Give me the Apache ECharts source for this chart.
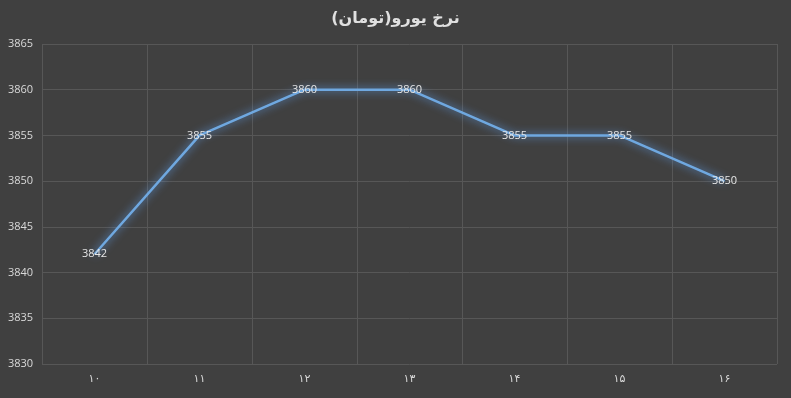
<!DOCTYPE html>
<html>
<head>
<meta charset="utf-8">
<script src="https://cdn.jsdelivr.net/npm/echarts@6/dist/echarts.min.js"></script>
<style>
  html, body { margin: 0; padding: 0; background: #404040; }
  #main { width: 791px; height: 398px; }
</style>
</head>
<body>
<div id="main"></div>
<script>
// روزها و نرخ یورو
var days = ['۱۰', '۱۱', '۱۲', '۱۳', '۱۴', '۱۵', '۱۶'];
var rates = [3842, 3855, 3860, 3860, 3855, 3855, 3850];
var chartTitle = 'نرخ یورو(تومان)';

var myChart = echarts.init(document.getElementById('main'));
myChart.setOption({
    backgroundColor: '#404040',
    title: {
        text: chartTitle,
        left: 'center',
        top: 6,
        textStyle: {
            color: '#e0e0e0',
            fontSize: 16,
            fontWeight: 'bold',
            fontFamily: 'DejaVu Sans, sans-serif'
        }
    },
    grid: {
        left: 42,
        right: 14,
        top: 44,
        bottom: 34
    },
    xAxis: {
        type: 'category',
        data: days,
        boundaryGap: true,
        axisLine: { show: false },
        axisTick: { show: false },
        splitLine: { show: true, lineStyle: { color: '#575757', width: 1 } },
        axisLabel: {
            color: '#d9d9d9',
            fontSize: 11,
            margin: 10,
            fontFamily: 'DejaVu Sans, sans-serif'
        }
    },
    yAxis: {
        type: 'value',
        min: 3830,
        max: 3865,
        interval: 5,
        axisLine: { show: false },
        axisTick: { show: false },
        splitLine: { lineStyle: { color: '#575757', width: 1 } },
        axisLabel: {
            color: '#d9d9d9',
            fontSize: 11,
            margin: 34,
            align: 'left',
            fontFamily: 'Open Sans, sans-serif',
            formatter: function (v) { return String(v); }
        }
    },
    series: [{
        type: 'line',
        data: rates,
        symbol: 'circle',
        symbolSize: 1,
        showSymbol: true,
        itemStyle: { color: 'rgba(0,0,0,0)' },
        lineStyle: {
            color: '#6fa8e0',
            width: 2.5,
            shadowColor: 'rgba(100,170,255,0.9)',
            shadowBlur: 8
        },
        label: {
            show: true,
            position: 'inside',
            color: '#e6e6e6',
            fontSize: 11,
            fontFamily: 'Open Sans, sans-serif',
            formatter: function (p) { return String(p.value); }
        }
    }]
});
</script>
</body>
</html>
